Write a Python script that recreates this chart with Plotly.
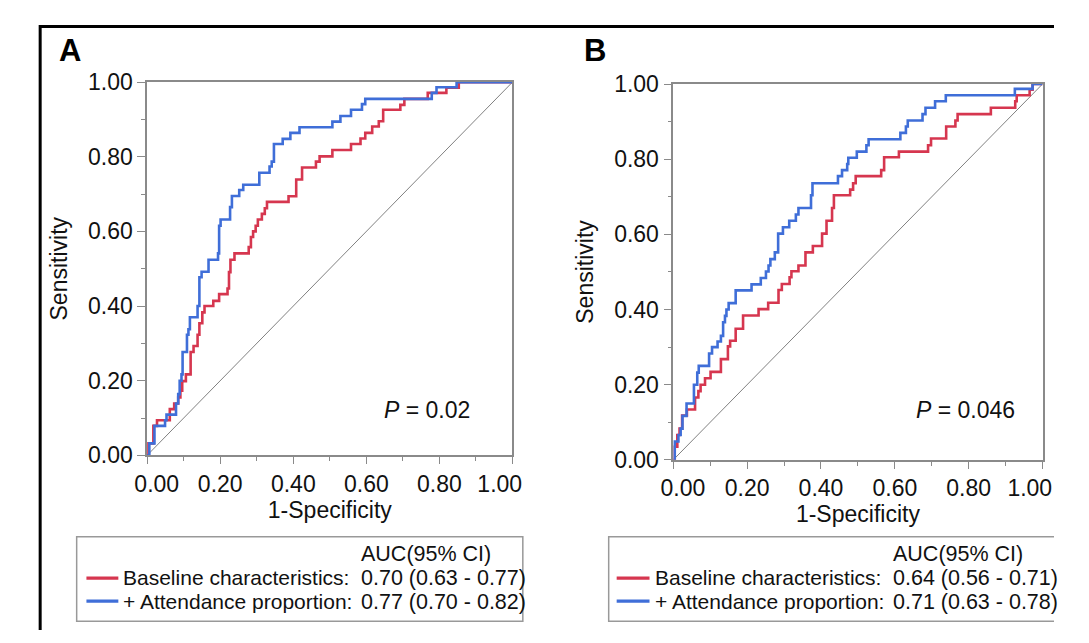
import plotly.graph_objects as go

W, H = 1089, 643
FONT = "Liberation Sans, Arial, Helvetica, sans-serif"
RED = "#d6364f"
BLUE = "#3f6ed8"
GRAY = "#8a8a8a"

# ---------------- data ----------------
# Panel A: ROC step points (1-Specificity at which the level starts, Sensitivity level)
a_base_fpr = [0, 0.003, 0.017, 0.027, 0.062, 0.074, 0.085, 0.091, 0.096, 0.106, 0.119, 0.127, 0.138,
              0.143, 0.151, 0.157, 0.181, 0.197, 0.220, 0.224, 0.228, 0.239, 0.278, 0.284, 0.290,
              0.297, 0.303, 0.314, 0.322, 0.328, 0.387, 0.408, 0.424, 0.462, 0.472, 0.507, 0.558,
              0.584, 0.597, 0.616, 0.634, 0.646, 0.693, 0.704, 0.768, 0.819, 0.853, 1.0]
a_base_tpr = [0, 0.032, 0.079, 0.094, 0.124, 0.139, 0.155, 0.173, 0.199, 0.217, 0.277, 0.293, 0.323,
              0.354, 0.383, 0.400, 0.414, 0.432, 0.447, 0.491, 0.524, 0.541, 0.558, 0.585, 0.600,
              0.615, 0.632, 0.647, 0.662, 0.679, 0.694, 0.739, 0.771, 0.787, 0.801, 0.818, 0.834,
              0.849, 0.864, 0.881, 0.895, 0.926, 0.939, 0.955, 0.971, 0.985, 1.0, 1.0]
a_att_fpr = [0, 0.006, 0.020, 0.049, 0.053, 0.079, 0.085, 0.089, 0.094, 0.097, 0.109, 0.113, 0.117,
             0.138, 0.143, 0.149, 0.168, 0.194, 0.197, 0.201, 0.227, 0.232, 0.252, 0.263, 0.307,
             0.335, 0.341, 0.347, 0.371, 0.392, 0.417, 0.507, 0.529, 0.558, 0.588, 0.597, 0.779,
             0.792, 0.847, 1.0]
a_att_tpr = [0, 0.032, 0.079, 0.094, 0.109, 0.139, 0.164, 0.200, 0.217, 0.277, 0.323, 0.338, 0.370,
             0.400, 0.477, 0.492, 0.524, 0.541, 0.615, 0.632, 0.665, 0.695, 0.711, 0.725, 0.757,
             0.774, 0.787, 0.834, 0.848, 0.864, 0.879, 0.894, 0.909, 0.926, 0.941, 0.955, 0.971,
             0.986, 1.0, 1.0]

# Panel B
b_base_fpr = [0, 0.004, 0.011, 0.017, 0.024, 0.037, 0.059, 0.068, 0.074, 0.086, 0.101, 0.129, 0.148,
              0.154, 0.169, 0.189, 0.231, 0.257, 0.285, 0.294, 0.315, 0.320, 0.339, 0.358, 0.378,
              0.403, 0.415, 0.430, 0.435, 0.479, 0.487, 0.494, 0.563, 0.571, 0.611, 0.690, 0.698,
              0.739, 0.764, 0.770, 0.860, 0.926, 0.930, 0.965, 0.973, 1.0]
b_base_tpr = [0, 0.035, 0.066, 0.083, 0.118, 0.134, 0.166, 0.183, 0.200, 0.217, 0.234, 0.268, 0.302,
              0.317, 0.349, 0.384, 0.401, 0.418, 0.452, 0.468, 0.486, 0.502, 0.517, 0.552, 0.569,
              0.602, 0.636, 0.670, 0.704, 0.719, 0.736, 0.755, 0.771, 0.805, 0.820, 0.837, 0.855,
              0.887, 0.903, 0.920, 0.937, 0.954, 0.970, 0.985, 1.0, 1.0]
b_att_fpr = [0, 0.004, 0.014, 0.020, 0.025, 0.036, 0.056, 0.065, 0.069, 0.097, 0.105, 0.120, 0.129,
             0.135, 0.140, 0.144, 0.150, 0.169, 0.212, 0.237, 0.251, 0.258, 0.263, 0.275, 0.284,
             0.297, 0.314, 0.332, 0.339, 0.373, 0.377, 0.446, 0.457, 0.471, 0.474, 0.497, 0.523,
             0.529, 0.615, 0.630, 0.635, 0.675, 0.683, 0.709, 0.738, 0.925, 0.973, 1.0]
b_att_tpr = [0, 0.049, 0.066, 0.083, 0.117, 0.150, 0.200, 0.232, 0.250, 0.283, 0.300, 0.315, 0.330,
             0.366, 0.383, 0.400, 0.417, 0.451, 0.467, 0.484, 0.501, 0.517, 0.534, 0.552, 0.602,
             0.619, 0.636, 0.653, 0.670, 0.704, 0.736, 0.755, 0.771, 0.787, 0.804, 0.820, 0.837,
             0.853, 0.870, 0.887, 0.903, 0.920, 0.937, 0.954, 0.970, 0.987, 1.0, 1.0]

panel_letters = ["A", "B"]
series_names = ["Baseline characteristics:", "+ Attendance proportion:"]
auc_header = "AUC(95% CI)"
a_auc_text = ["0.70 (0.63 - 0.77)", "0.77 (0.70 - 0.82)"]
b_auc_text = ["0.64 (0.56 - 0.71)", "0.71 (0.63 - 0.78)"]
p_text = ["<i>P</i> = 0.02", "<i>P</i> = 0.046"]
tick_vals = [0, 0.2, 0.4, 0.6, 0.8, 1.0]
tick_labels = ["0.00", "0.20", "0.40", "0.60", "0.80", "1.00"]
x_title = "1-Specificity"
y_title = "Sensitivity"

# ---------------- layout geometry (pixels) ----------------
def fx(v):
    return v / W

def fy(v):
    return 1 - v / H

panels = [
    dict(xd=[fx(122.7), fx(512.0)], yd=[fy(461.0), fy(72.0)],
         base=(a_base_fpr, a_base_tpr), att=(a_att_fpr, a_att_tpr), auc=a_auc_text,
         letter_xy=(41, 39), p_xy=(0.766, 0.121),
         box=(47.6, 545.7, 523.0, 634.0), line_x=(58, 92), name_x=95, val_x=348),
    dict(xd=[fx(683.3), fx(1076.8)], yd=[fy(465.7), fy(74.0)],
         base=(b_base_fpr, b_base_tpr), att=(b_att_fpr, b_att_tpr), auc=b_auc_text,
         letter_xy=(600, 39), p_xy=(0.792, 0.132),
         box=(614.5, 545.7, 1089.0, 634.0), line_x=(623, 658), name_x=662, val_x=915),
]

x_ticktext = ["\u00a0\u00a0\u00a0" + tick_labels[0]] + tick_labels[1:-1] + [tick_labels[-1] + "\u00a0\u00a0\u00a0\u00a0"]

LEG_FS = 18.6          # base size -> line pitch 1.3*18.6 = 24 px
NAME_SPAN = '<span style="font-size:21px">%s</span>'
VAL_SPAN = '<span style="font-size:21.5px">%s</span>'

fig = go.Figure()
shapes = []
annotations = []

for i, p in enumerate(panels):
    xa = "x" if i == 0 else "x2"
    ya = "y" if i == 0 else "y2"
    fig.add_trace(go.Scatter(x=[0, 1], y=[0, 1], mode="lines", xaxis=xa, yaxis=ya,
                             line=dict(color="#808080", width=1), showlegend=False, hoverinfo="skip"))
    fig.add_trace(go.Scatter(x=p["base"][0], y=p["base"][1], mode="lines", xaxis=xa, yaxis=ya,
                             line=dict(color=RED, width=2.6, shape="hv"), name=series_names[0],
                             showlegend=False))
    fig.add_trace(go.Scatter(x=p["att"][0], y=p["att"][1], mode="lines", xaxis=xa, yaxis=ya,
                             line=dict(color=BLUE, width=2.6, shape="hv"), name=series_names[1],
                             showlegend=False))

    axis_common = dict(range=[0, 1], showgrid=False, zeroline=False, showline=True, mirror=True,
                       linecolor=GRAY, linewidth=1.5, ticks="outside", tickcolor=GRAY, tickwidth=1.2,
                       tickfont=dict(family=FONT, size=23, color="#111"), tickvals=tick_vals,
                       minor=dict(dtick=0.1, tick0=0, ticks="outside", ticklen=4, tickcolor=GRAY, tickwidth=1.2),
                       fixedrange=True)
    xkey = "xaxis" if i == 0 else "xaxis2"
    ykey = "yaxis" if i == 0 else "yaxis2"
    fig.layout[xkey] = dict(axis_common, domain=p["xd"], anchor=ya, ticklen=7, ticktext=x_ticktext,
                            title=dict(text=x_title, font=dict(family=FONT, size=23, color="#111"), standoff=4))
    fig.layout[ykey] = dict(axis_common, domain=p["yd"], anchor=xa, ticklen=8, ticktext=tick_labels,
                            title=dict(text=y_title, font=dict(family=FONT, size=23, color="#111"), standoff=14))

    annotations.append(dict(x=fx(p["letter_xy"][0]), y=fy(p["letter_xy"][1]), xref="paper", yref="paper",
                            text="<b>%s</b>" % panel_letters[i], showarrow=False, xanchor="center", yanchor="middle",
                            font=dict(family=FONT, size=31, color="black")))
    annotations.append(dict(x=p["p_xy"][0], y=p["p_xy"][1], xref=xa, yref=ya, text=p_text[i], showarrow=False,
                            xanchor="center", yanchor="middle", font=dict(family=FONT, size=23, color="#111")))

    # legend box (manual table), kept inside the page
    x0, y0, x1, y1 = p["box"]
    path = "M %f %f L %f %f L %f %f L %f %f" % (fx(x1), fy(y0), fx(x0), fy(y0), fx(x0), fy(y1), fx(x1), fy(y1))
    if x1 < W - 1:
        path += " Z"
    shapes.append(dict(type="path", xref="paper", yref="paper", path=path,
                       line=dict(color="#999999", width=1.5)))
    for j, (col, yy) in enumerate([(RED, 589), (BLUE, 613)]):
        shapes.append(dict(type="line", xref="paper", yref="paper", x0=fx(p["line_x"][0]), x1=fx(p["line_x"][1]),
                           y0=fy(yy), y1=fy(yy), line=dict(color=col, width=3.2)))
    names_txt = "<br>".join(NAME_SPAN % s for s in series_names)
    annotations.append(dict(x=fx(p["name_x"]), y=fy(601), xref="paper", yref="paper", text=names_txt,
                            showarrow=False, xanchor="left", yanchor="middle", align="left",
                            font=dict(family=FONT, size=LEG_FS, color="#111")))
    vals_txt = "<br>".join(VAL_SPAN % s for s in [auc_header] + list(p["auc"]))
    annotations.append(dict(x=fx(p["val_x"]), y=fy(589), xref="paper", yref="paper", text=vals_txt,
                            showarrow=False, xanchor="left", yanchor="middle", align="left",
                            font=dict(family=FONT, size=LEG_FS, color="#111")))

# outer black frame (top and left edges visible in the crop)
shapes.append(dict(type="path", xref="paper", yref="paper",
                   path="M %f %f L %f %f L %f %f" % (fx(W), fy(14), fx(8.7), fy(14), fx(8.7), fy(H)),
                   line=dict(color="black", width=3), layer="above"))

fig.update_layout(width=W, height=H, margin=dict(l=0, r=0, t=0, b=0), paper_bgcolor="white",
                  plot_bgcolor="white", shapes=shapes, annotations=annotations, showlegend=False,
                  font=dict(family=FONT))

css = ("html,body{margin:0!important;padding:0!important;overflow:hidden!important;"
       "width:%dpx;height:%dpx;}"
       ".plotly-graph-div,.svg-container{overflow:hidden!important;}"
       ".main-svg{overflow:hidden!important;}") % (W, H)
post = ("var st=document.createElement('style');st.innerHTML=%r;document.head.appendChild(st);" % css)

fig.write_html("out.html", config={"displayModeBar": False}, post_script=post)
